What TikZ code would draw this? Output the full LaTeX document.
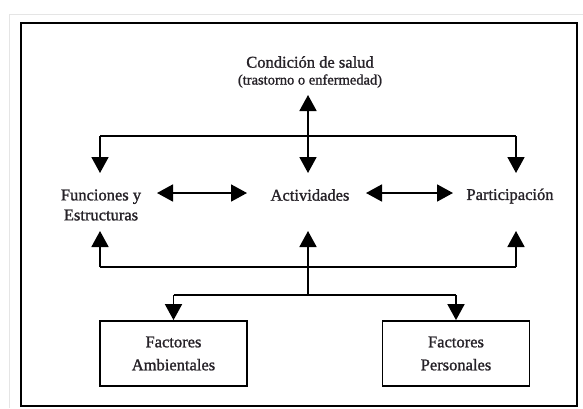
\documentclass[tikz,border=0pt]{standalone}
\usepackage{fontspec}
\setmainfont{Liberation Serif}
\font\medA="Liberation Serif:embolden=1.3;mapping=tex-text" at 16.5pt
\font\medB="Liberation Serif:embolden=1.3;mapping=tex-text" at 14.5pt
\newcommand\lblfontA{\medA\baselineskip=20pt\relax}
\newcommand\lblfontB{\medA\baselineskip=23pt\relax}
\usetikzlibrary{arrows.meta}
\definecolor{txt}{RGB}{38,34,40}
\tikzset{
  lbl/.style={inner sep=0pt, text=txt, font=\lblfontA, align=center},
  conn/.style={line width=1.8pt, draw=black},
  arr/.style={conn, -{Triangle[length=16pt,width=17pt]}},
  darr/.style={conn, {Triangle[length=16pt,width=17pt]}-{Triangle[length=16pt,width=17pt]}},
  factbox/.style={draw=black, line width=1.8pt, minimum width=147pt, minimum height=65pt, inner sep=0pt, text=txt, align=center, font=\lblfontB}
}
\begin{document}
\begin{tikzpicture}[x=1pt,y=-1pt]
\useasboundingbox (0,0) rectangle (583,408);
% faint outer border
\draw[gray!20, line width=1pt] (9,408) -- (9,14) -- (583,14);
% frame
\draw[line width=2pt] (21,23) rectangle (577,406);

% texts
\node[lbl] (cond) at (310,62) {Condición de salud};
\node[lbl, font=\medB] (sub) at (310,81) {(trastorno o enfermedad)};
\node[lbl] (fun) at (101,205) {Funciones y\\Estructuras};
\node[lbl] (act) at (310,195) {Actividades};
\node[lbl] (par) at (510,196) {Participación};
\node[factbox] (amb) at (173.5,353.5) {Factores\\Ambientales};
\node[factbox] (per) at (456,353.5) {Factores\\Personales};

% coordinates
\coordinate (cTop) at (308,95);
\coordinate (bL) at (100,136);
\coordinate (bR) at (516,136);
\coordinate (dL) at (100,173);
\coordinate (dC) at (308,173);
\coordinate (dR) at (516,173);
\coordinate (uL) at (100,231);
\coordinate (uC) at (308,231);
\coordinate (uR) at (516,231);
\coordinate (lL) at (100,267);
\coordinate (lC) at (308,267);
\coordinate (lR) at (516,267);
\coordinate (jC) at (308,295);
\coordinate (jL) at (173.5,295);
\coordinate (jR) at (456,295);
\coordinate (h1a) at (157,193);
\coordinate (h1b) at (247,193);
\coordinate (h2a) at (366,193);
\coordinate (h2b) at (453,193);

% top bus
\draw[darr] (cTop) -- (dC);
\draw[conn] (bL) -- (bR);
\draw[arr] (bL) -- (dL);
\draw[arr] (bR) -- (dR);

% horizontal double arrows
\draw[darr] (h1a) -- (h1b);
\draw[darr] (h2a) -- (h2b);

% bottom bus
\draw[arr] (lL) -- (uL);
\draw[arr] (lR) -- (uR);
\draw[conn] (lL) -- (lR);
\draw[arr] (jC) -- (uC);

% branch to factors
\draw[conn] (jL) -- (jR);
\draw[arr] (jL) -- (amb.north);
\draw[arr] (jR) -- (per.north);
\end{tikzpicture}
\end{document}
